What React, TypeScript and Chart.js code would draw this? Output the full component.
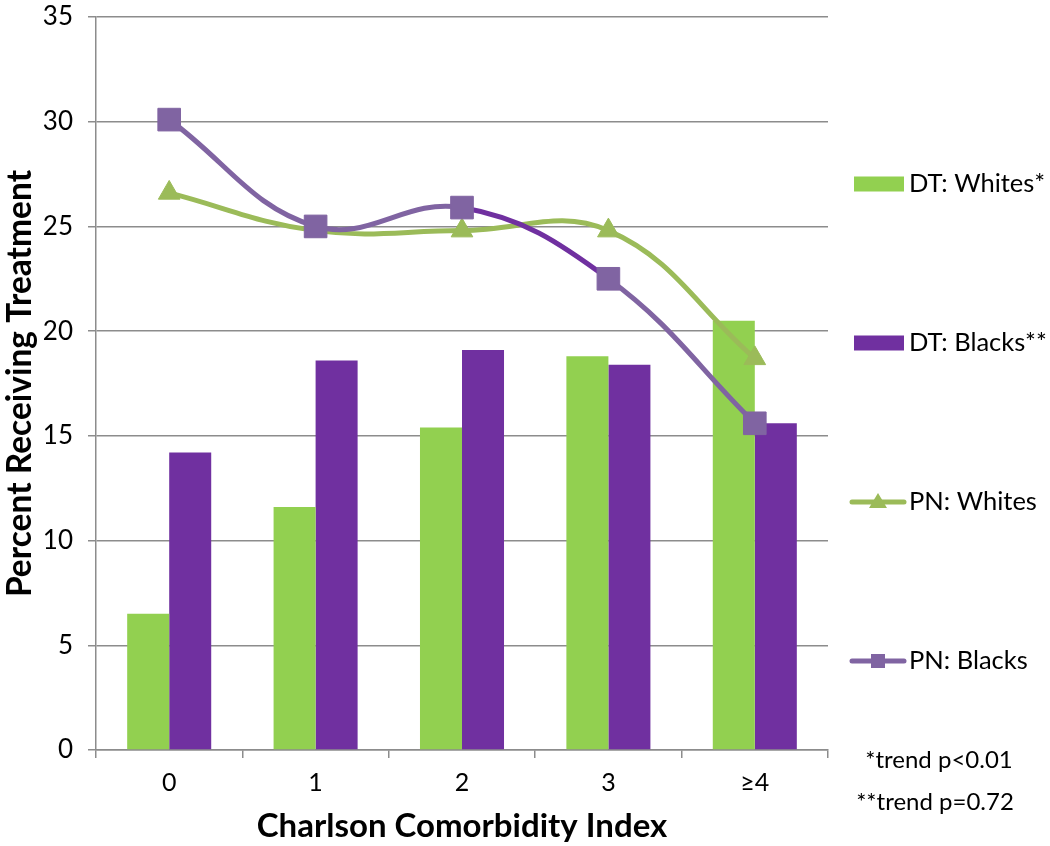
import React, { useEffect, useRef } from 'react';
import { Chart, registerables } from 'chart.js';

Chart.register(...registerables);

// ---- data ----
const categories = ['0', '1', '2', '3', '≥4'];
const dtWhites = [6.5, 11.6, 15.4, 18.8, 20.5];
const dtBlacks = [14.2, 18.6, 19.1, 18.4, 15.6];
const pnWhites = [26.6, 24.8, 24.8, 24.8, 18.7];
const pnBlacks = [30.1, 25.0, 25.9, 22.5, 15.6];
const seriesLabels = ['DT: Whites*', 'DT: Blacks**', 'PN: Whites', 'PN: Blacks'];
const trendNotes = ['*trend p<0.01', '**trend p=0.72'];
const yAxisTitle = 'Percent Receiving Treatment';
const xAxisTitle = 'Charlson Comorbidity Index';

const GREEN_BAR = '#92D050';
const PURPLE_BAR = '#7030A0';
const GREEN_LINE = '#9BBB59';
const PURPLE_LINE = '#8064A2';
const GRID = '#8c8c8c';
const FONT = 'Lato, "Open Sans", sans-serif';

const legendPlugin = {
  id: 'customLegend',
  afterDraw(chart: any) {
    const ctx = chart.ctx as CanvasRenderingContext2D;
    const rowsY = [184, 343, 502, 661];
    const symX0 = 852;
    const symX1 = 904;
    const textX = 909;
    ctx.save();
    ctx.font = `25.5px ${FONT}`;
    ctx.textBaseline = 'middle';
    ctx.textAlign = 'left';
    seriesLabels.forEach((label, i) => {
      const y = rowsY[i];
      if (i < 2) {
        ctx.fillStyle = i === 0 ? GREEN_BAR : PURPLE_BAR;
        ctx.fillRect(symX0 + 2, y - 7.5, symX1 - symX0 - 2, 15);
      } else {
        const col = i === 2 ? GREEN_LINE : PURPLE_LINE;
        ctx.strokeStyle = col;
        ctx.lineWidth = 5;
        ctx.lineCap = 'round';
        ctx.beginPath();
        ctx.moveTo(symX0, y);
        ctx.lineTo(symX1, y);
        ctx.stroke();
        ctx.fillStyle = col;
        const cx = (symX0 + symX1) / 2;
        ctx.beginPath();
        if (i === 2) {
          ctx.moveTo(cx, y - 9);
          ctx.lineTo(cx + 9, y + 6);
          ctx.lineTo(cx - 9, y + 6);
          ctx.closePath();
        } else {
          ctx.rect(cx - 7, y - 7, 14, 14);
        }
        ctx.fill();
      }
      ctx.fillStyle = '#000';
      ctx.fillText(label, textX, y);
    });
    ctx.textAlign = 'center';
    ctx.font = `24px ${FONT}`;
    ctx.fillText(trendNotes[0], 939, 760);
    ctx.fillText(trendNotes[1], 935, 802);
    ctx.restore();
  },
};

export default function App() {
  const canvasRef = useRef<HTMLCanvasElement | null>(null);

  useEffect(() => {
    document.body.style.margin = '0';
    const canvas = canvasRef.current;
    if (!canvas) return;
    const chart = new Chart(canvas, {
      type: 'bar',
      data: {
        labels: categories,
        datasets: [
          {
            type: 'bar',
            label: seriesLabels[0],
            data: dtWhites,
            backgroundColor: GREEN_BAR,
            borderWidth: 0,
            order: 2,
          },
          {
            type: 'bar',
            label: seriesLabels[1],
            data: dtBlacks,
            backgroundColor: PURPLE_BAR,
            borderWidth: 0,
            order: 2,
          },
          {
            type: 'line',
            label: seriesLabels[2],
            data: pnWhites,
            borderColor: GREEN_LINE,
            backgroundColor: GREEN_LINE,
            borderWidth: 5,
            tension: 0.4,
            pointStyle: 'triangle',
            pointRadius: 12.5,
            pointBorderWidth: 1,
            pointBorderColor: GREEN_LINE,
            pointBackgroundColor: GREEN_LINE,
            order: 1,
          },
          {
            type: 'line',
            label: seriesLabels[3],
            data: pnBlacks,
            borderColor: PURPLE_LINE,
            backgroundColor: PURPLE_LINE,
            borderWidth: 5,
            tension: 0.4,
            pointStyle: 'rect',
            pointRadius: 16,
            pointBorderWidth: 1,
            pointBorderColor: PURPLE_LINE,
            pointBackgroundColor: PURPLE_LINE,
            segment: {
              borderColor: (c: any) => (c.p0DataIndex === 2 ? PURPLE_BAR : undefined),
            },
            order: 0,
          },
        ] as any,
      },
      options: {
        responsive: false,
        animation: false,
        devicePixelRatio: 1,
        datasets: {
          bar: { categoryPercentage: 0.574, barPercentage: 1 },
        },
        layout: { padding: { top: 15, right: 222, left: 0, bottom: 0 } },
        plugins: {
          legend: { display: false },
          tooltip: { enabled: false },
        },
        scales: {
          x: {
            offset: true,
            grid: {
              display: true,
              drawOnChartArea: false,
              drawTicks: true,
              tickLength: 8,
              color: GRID,
              lineWidth: 1.5,
              offset: true,
            },
            border: { display: true, color: GRID, width: 1.5 },
            ticks: { color: '#000', font: { family: FONT, size: 25 }, padding: 10 },
            title: {
              display: true,
              text: xAxisTitle,
              color: '#000',
              font: { family: FONT, size: 33, weight: 'bold' },
              padding: { top: 0, bottom: 0 },
            },
            afterFit: (s: any) => {
              s.height = 96;
              s.paddingLeft = 0;
              s.paddingRight = 0;
            },
          },
          y: {
            min: 0,
            max: 35,
            ticks: { stepSize: 5, color: '#000', font: { family: FONT, size: 26 }, padding: 15 },
            grid: { color: GRID, lineWidth: 1.5, tickLength: 8 },
            border: { display: true, color: GRID, width: 1.5 },
            title: {
              display: true,
              text: yAxisTitle,
              color: '#000',
              font: { family: FONT, size: 33.5, weight: 'bold' },
              padding: { top: 0, bottom: 0 },
            },
            afterFit: (s: any) => {
              s.width = 96;
              s.paddingTop = 0;
              s.paddingBottom = 0;
            },
          },
        },
      } as any,
      plugins: [legendPlugin],
    });
    return () => chart.destroy();
  }, []);

  return (
    <div style={{ width: 1050, height: 846, position: 'relative', overflow: 'hidden', background: '#fff' }}>
      <canvas ref={canvasRef} width={1050} height={846} />
    </div>
  );
}
